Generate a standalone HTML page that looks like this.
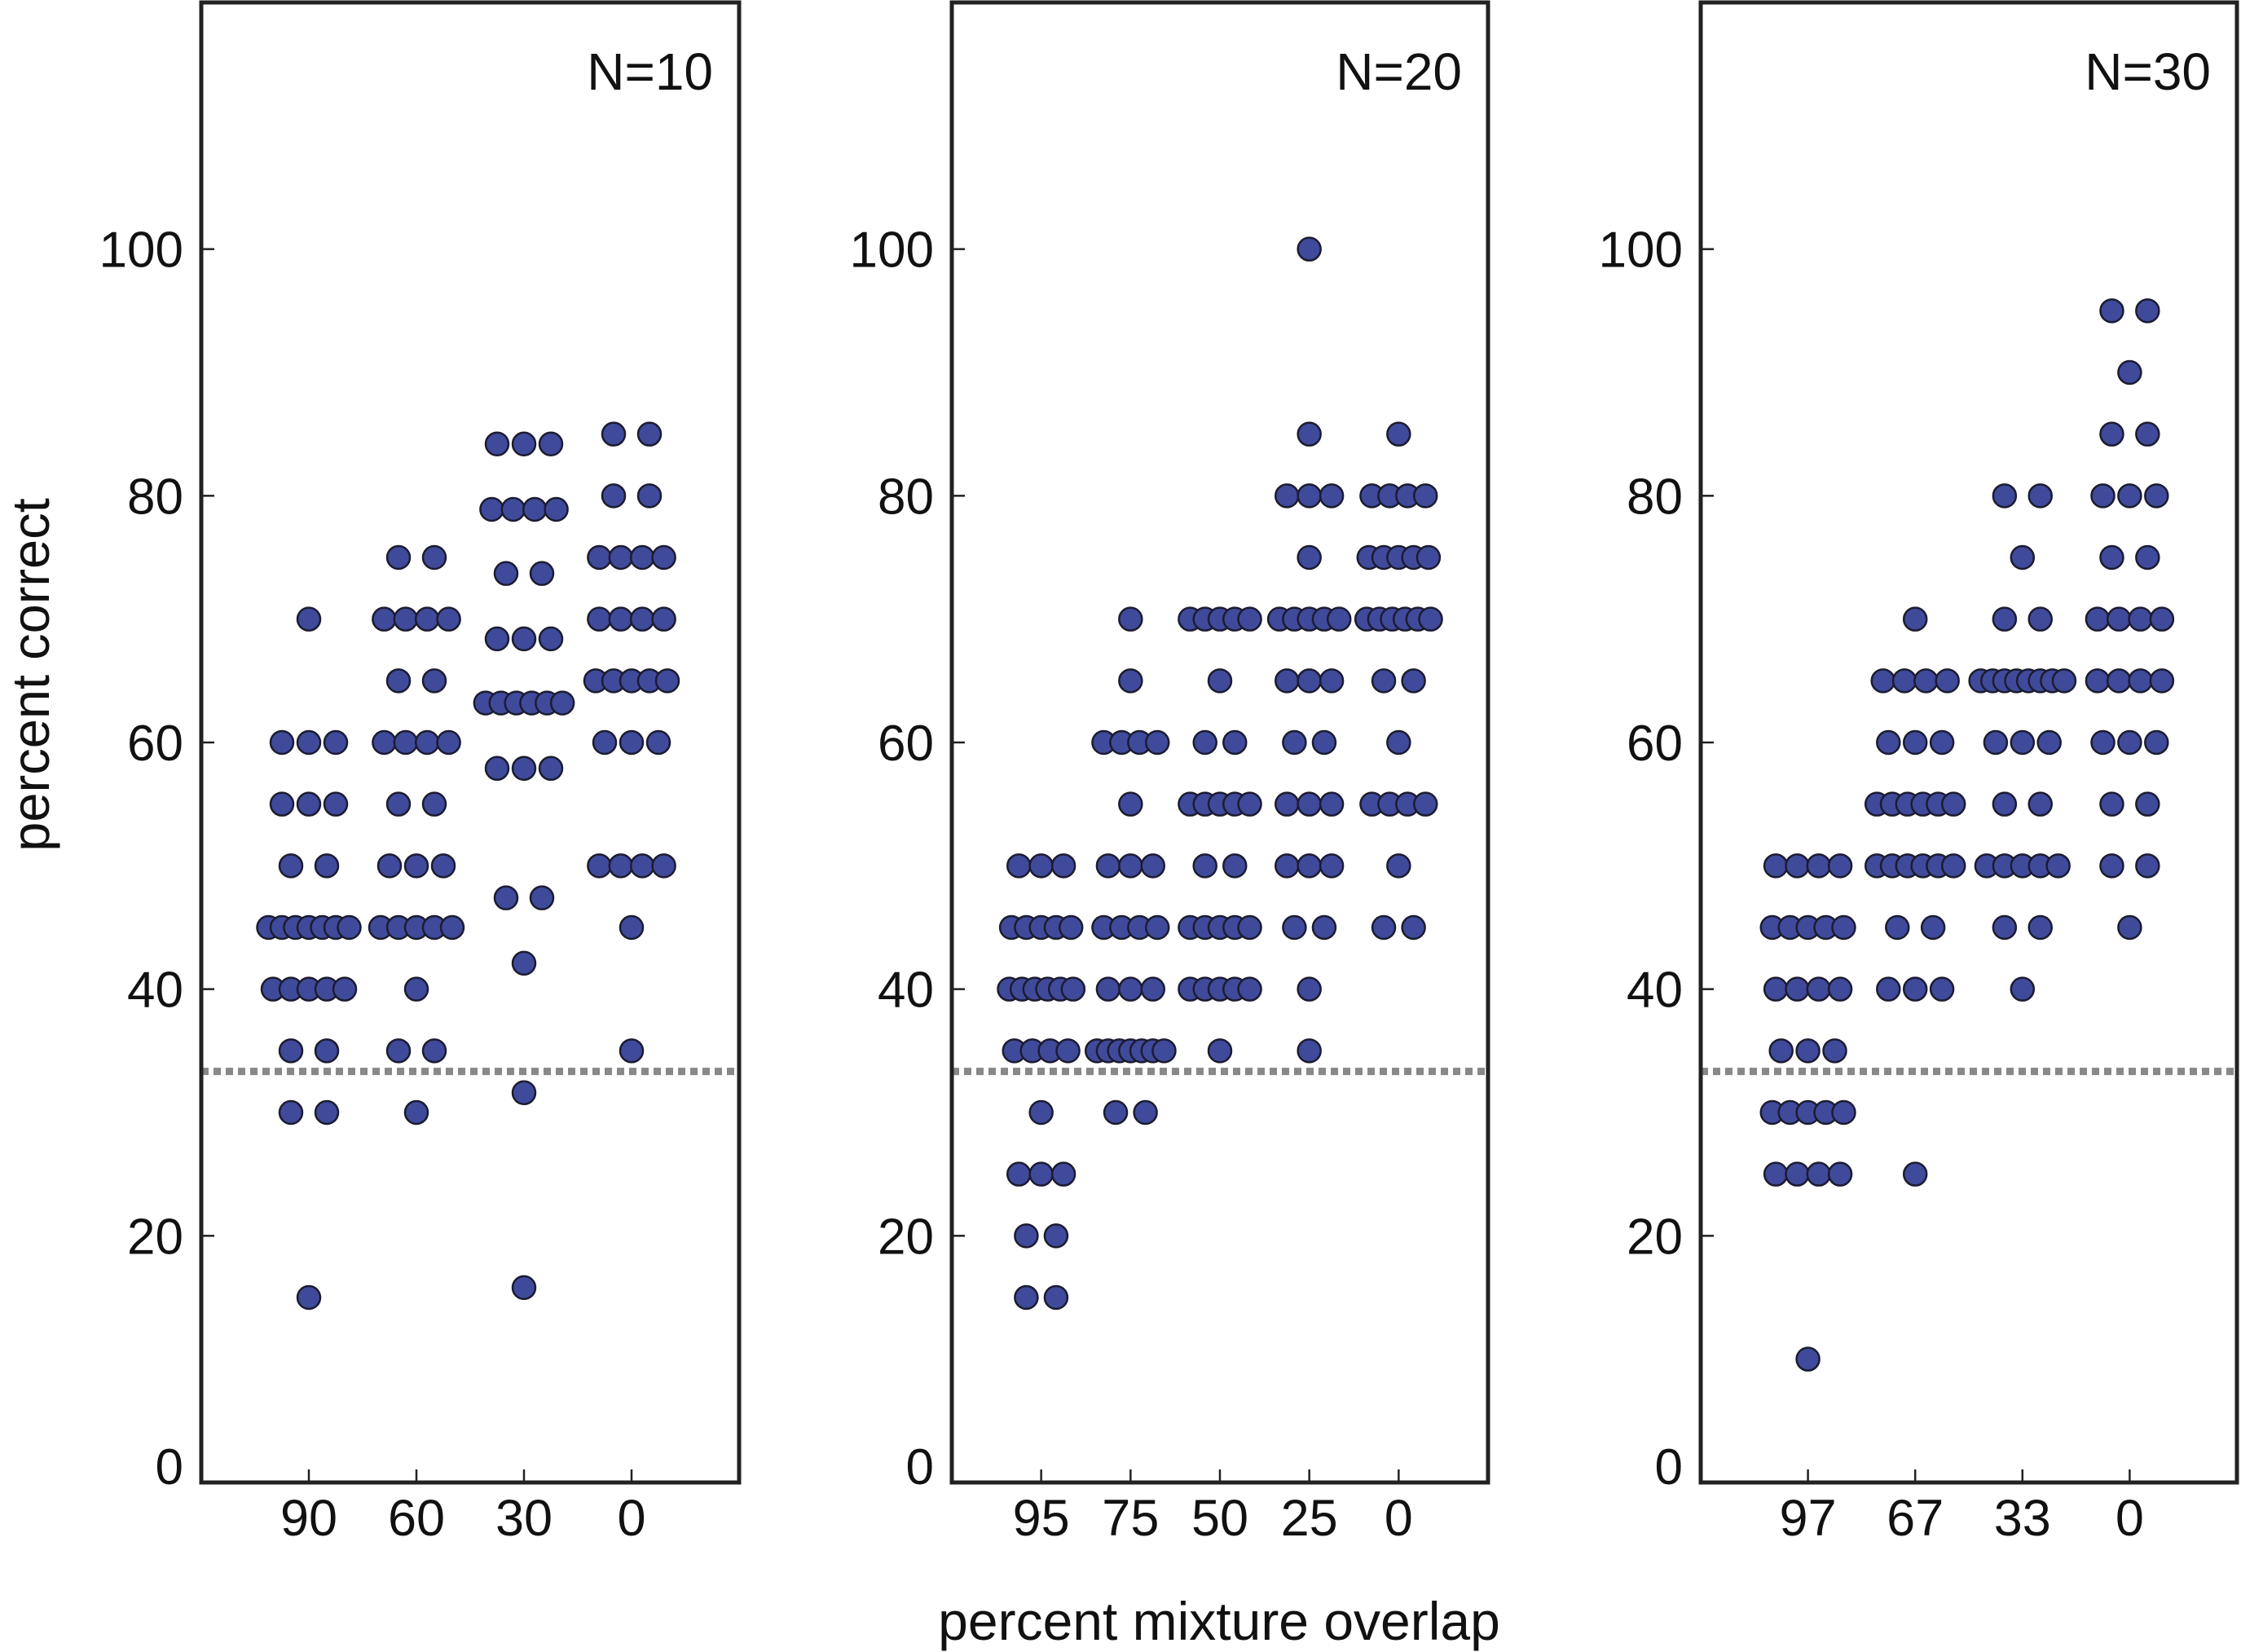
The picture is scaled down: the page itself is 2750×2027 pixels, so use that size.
<!DOCTYPE html>
<html><head><meta charset="utf-8"><style>
html,body{margin:0;padding:0;background:#fff;}
svg{display:block;font-family:"Liberation Sans",sans-serif;}
</style></head><body>
<svg id="chart" width="2750" height="2027" viewBox="0 0 2750 2027" xmlns="http://www.w3.org/2000/svg">
<text x="0" y="0" transform="translate(60,828) rotate(-90)" text-anchor="middle" font-size="65" fill="#111">percent correct</text>
<text x="1496" y="2012" text-anchor="middle" font-size="66" fill="#111">percent mixture overlap</text>
</svg>
<script>
const yTicks = [0,20,40,60,80,100];
const chance = 33.33;
const p1Labels = ["90","60","30","0"];
const p1Title = "N=10";
const p1G1 = [70,60,60,60,55,55,55,50,50,45,45,45,45,45,45,45,40,40,40,40,40,35,35,30,30,15];
const p1G2 = [75,75,70,70,70,70,65,65,60,60,60,60,55,55,50,50,50,45,45,45,45,45,40,35,35,30];
const p1G3 = [84.2,84.2,84.2,78.9,78.9,78.9,78.9,73.7,73.7,68.4,68.4,68.4,63.2,63.2,63.2,63.2,63.2,63.2,57.9,57.9,57.9,47.4,47.4,42.1,31.6,15.8];
const p1G4 = [85,85,80,80,75,75,75,75,70,70,70,70,65,65,65,65,65,60,60,60,50,50,50,50,45,35];
const p2Labels = ["95","75","50","25","0"];
const p2Title = "N=20";
const p2G1 = [50,50,50,45,45,45,45,45,40,40,40,40,40,40,35,35,35,35,30,25,25,25,20,20,15,15];
const p2G2 = [70,65,60,60,60,60,55,50,50,50,45,45,45,45,40,40,40,35,35,35,35,35,35,35,30,30];
const p2G3 = [70,70,70,70,70,65,60,60,55,55,55,55,55,50,50,45,45,45,45,45,40,40,40,40,40,35];
const p2G4 = [100,85,80,80,80,75,70,70,70,70,70,65,65,65,60,60,55,55,55,50,50,50,45,45,40,35];
const p2G5 = [85,80,80,80,80,75,75,75,75,75,70,70,70,70,70,70,65,65,60,55,55,55,55,50,45,45];
const p3Labels = ["97","67","33","0"];
const p3Title = "N=30";
const p3G1 = [50,50,50,50,45,45,45,45,45,40,40,40,40,35,35,35,30,30,30,30,30,25,25,25,25,10];
const p3G2 = [70,65,65,65,65,60,60,60,55,55,55,55,55,55,50,50,50,50,50,50,45,45,40,40,40,25];
const p3G3 = [80,80,75,70,70,65,65,65,65,65,65,65,65,60,60,60,55,55,50,50,50,50,50,45,45,40];
const p3G4 = [95,95,90,85,85,80,80,80,75,75,70,70,70,70,65,65,65,65,60,60,60,55,55,50,50,45];

const panels = [
  {left:247, right:907, xmax:5, labels:p1Labels, title:p1Title, groups:[p1G1,p1G2,p1G3,p1G4], name:"panel-n10"},
  {left:1168, right:1826, xmax:6, labels:p2Labels, title:p2Title, groups:[p2G1,p2G2,p2G3,p2G4,p2G5], name:"panel-n20"},
  {left:2087, right:2745, xmax:5, labels:p3Labels, title:p3Title, groups:[p3G1,p3G2,p3G3,p3G4], name:"panel-n30"}
];
const NS = "http://www.w3.org/2000/svg";
const svg = document.getElementById('chart');
const TOP = 3, BOTTOM = 1819, YMAX = 120;
function yScale(v){ return BOTTOM - v/YMAX*(BOTTOM-TOP); }
function mk(tag, attrs, parent){
  const e = document.createElementNS(NS, tag);
  for (const k in attrs) e.setAttribute(k, attrs[k]);
  parent.appendChild(e); return e;
}
panels.forEach(p=>{
  const g = mk('g', {}, svg);
  
  
  const xScale = v => p.left + v/p.xmax*(p.right-p.left);
  const cl = mk('line', {x1:p.left, x2:p.right, y1:yScale(chance), y2:yScale(chance), stroke:'#888', 'stroke-width':9, 'stroke-dasharray':'9 6'}, g);
  
  
  p.groups.forEach((arr, gi)=>{
    const counts = {};
    arr.forEach(v=>{ counts[v]=(counts[v]||0)+1; });
    const seen = {};
    arr.forEach(v=>{
      const n = counts[v]; const i = seen[v]||0; seen[v]=i+1;
      const off = (i+1)/(n+1) - 0.5;
      const c = mk('circle', {cx:xScale(gi+1+off), cy:yScale(v), r:14, fill:'#3f4a9b', stroke:'#1c1c30', 'stroke-width':2.5}, g);
      
      
    });
  });
  const fr = mk('rect', {x:p.left, y:TOP, width:p.right-p.left, height:BOTTOM-TOP, fill:'none', stroke:'#222', 'stroke-width':5}, g);
  
  
  yTicks.forEach(t=>{
    const y = yScale(t);
    const tl = mk('line', {x1:p.left, x2:p.left+16, y1:y, y2:y, stroke:'#222', 'stroke-width':2.5}, g);
    
    
    const tx = mk('text', {x:p.left-22, y:y+22-(t===0?20:0), 'text-anchor':'end', 'font-size':62, fill:'#111'}, g);
    
    
    tx.textContent = t;
  });
  p.labels.forEach((lab, i)=>{
    const x = xScale(i+1);
    const tl = mk('line', {x1:x, x2:x, y1:BOTTOM, y2:BOTTOM-16, stroke:'#222', 'stroke-width':2.5}, g);
    
    
    const tx = mk('text', {x:x, y:1884, 'text-anchor':'middle', 'font-size':63, fill:'#111'}, g);
    
    
    tx.textContent = lab;
  });
  const tt = mk('text', {x:p.right-32, y:110, 'text-anchor':'end', 'font-size':64, fill:'#111'}, g);
  
  
  tt.textContent = p.title;
});
</script>
</body></html>
